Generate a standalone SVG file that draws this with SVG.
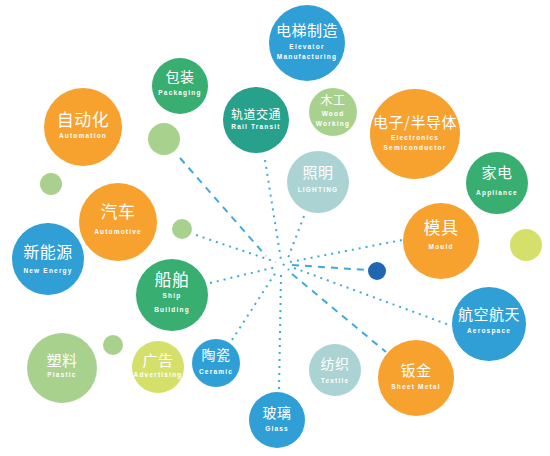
<svg xmlns="http://www.w3.org/2000/svg" width="550" height="456" viewBox="0 0 550 456">
<style>
.or{fill:#f7a12f}.bl{fill:#2f9fd6}.gr{fill:#38ae70}.te{fill:#27a08c}.lg{fill:#a9d18e}.gb{fill:#acd3d3}.yg{fill:#d5e06a}.db{fill:#2166b0}
.t{fill:#fff;font-family:"Noto Sans CJK SC","Liberation Sans",sans-serif;text-anchor:middle;letter-spacing:0.5px}
.s{fill:#fff;font-family:"Liberation Sans",sans-serif;font-weight:bold;font-size:6.5px;letter-spacing:1.2px;text-anchor:middle}
.c line{stroke:#3fa9df;stroke-width:2;fill:none}
.d1{stroke-dasharray:2 5}
.d2{stroke-dasharray:7 6}
</style>
<rect width="550" height="456" fill="#fff"/>
<g class="c" id="connectors">
<line class="d2" x1="180" y1="158" x2="266" y2="256"/>
<line class="d1" x1="265" y1="160" x2="281" y2="260"/>
<line class="d1" x1="304" y1="216" x2="288" y2="258"/>
<line class="d1" x1="196" y1="235" x2="276" y2="262"/>
<line class="d1" x1="210" y1="283" x2="276" y2="267"/>
<line class="d1" x1="232" y1="340" x2="276" y2="272"/>
<line class="d1" x1="281" y1="275" x2="279" y2="392"/>
<line class="d2" x1="292" y1="274" x2="386" y2="352"/>
<line class="d1" x1="294" y1="268" x2="452" y2="326"/>
<line class="d2" x1="292" y1="265" x2="367" y2="270"/>
<line class="d1" x1="290" y1="262" x2="402" y2="240"/>
<line class="d1" x1="283" y1="264" x2="289" y2="270"/>
</g>
<g id="n-dianti"><circle class="bl" cx="307" cy="43" r="38"/><text class="t" x="307" y="36" font-size="15">电梯制造</text><text class="s" x="307" y="49">Elevator</text><text class="s" x="307" y="59">Manufacturing</text></g>
<g id="n-baozhuang"><circle class="gr" cx="180" cy="86" r="28"/><text class="t" x="180" y="82" font-size="14">包装</text><text class="s" x="180" y="95">Packaging</text></g>
<g id="n-guidao"><circle class="te" cx="256" cy="120" r="33"/><text class="t" x="256" y="119" font-size="12">轨道交通</text><text class="s" x="256" y="129">Rail Transit</text></g>
<g id="n-mugong"><circle class="lg" cx="333" cy="112" r="24"/><text class="t" x="333" y="105" font-size="12">木工</text><text class="s" x="333" y="116">Wood</text><text class="s" x="333" y="126">Working</text></g>
<g id="n-dianzi"><circle class="or" cx="415" cy="134" r="45"/><text class="t" x="415" y="128" font-size="15">电子/半导体</text><text class="s" x="415" y="140">Electronics</text><text class="s" x="415" y="150">Semiconductor</text></g>
<g id="n-zhaoming"><circle class="gb" cx="318" cy="182" r="31"/><text class="t" x="318" y="178" font-size="15">照明</text><text class="s" x="318" y="192">LIGHTING</text></g>
<g id="n-jiadian"><circle class="gr" cx="497" cy="183" r="31"/><text class="t" x="497" y="178" font-size="15">家电</text><text class="s" x="497" y="195">Appliance</text></g>
<g id="n-zidonghua"><circle class="or" cx="83" cy="127" r="39"/><text class="t" x="83" y="126" font-size="17">自动化</text><text class="s" x="83" y="138">Automation</text></g>
<g id="n-dot1"><circle class="lg" cx="164" cy="139" r="16"/></g>
<g id="n-dot2"><circle class="lg" cx="51" cy="184" r="11"/></g>
<g id="n-qiche"><circle class="or" cx="118" cy="222" r="39"/><text class="t" x="118" y="218" font-size="17">汽车</text><text class="s" x="118" y="234">Automotive</text></g>
<g id="n-dot3"><circle class="lg" cx="182" cy="229" r="10"/></g>
<g id="n-xinnengyuan"><circle class="bl" cx="48" cy="259" r="36"/><text class="t" x="48" y="258" font-size="16">新能源</text><text class="s" x="48" y="273">New Energy</text></g>
<g id="n-chuanbo"><circle class="gr" cx="172" cy="295" r="36"/><text class="t" x="172" y="286" font-size="17">船舶</text><text class="s" x="172" y="298">Ship</text><text class="s" x="172" y="312">Building</text></g>
<g id="n-suliao"><circle class="lg" cx="62" cy="368" r="35"/><text class="t" x="62" y="366" font-size="15">塑料</text><text class="s" x="62" y="377">Plastic</text></g>
<g id="n-dot4"><circle class="lg" cx="113" cy="345" r="10"/></g>
<g id="n-guanggao"><circle class="yg" cx="158" cy="367" r="26"/><text class="t" x="158" y="366" font-size="15">广告</text><text class="s" x="158" y="377">Advertising</text></g>
<g id="n-taoci"><circle class="bl" cx="216" cy="363" r="24"/><text class="t" x="216" y="360" font-size="14">陶瓷</text><text class="s" x="216" y="374">Ceramic</text></g>
<g id="n-boli"><circle class="bl" cx="277" cy="420" r="28"/><text class="t" x="277" y="418" font-size="14">玻璃</text><text class="s" x="277" y="431">Glass</text></g>
<g id="n-fangzhi"><circle class="gb" cx="335" cy="370" r="26"/><text class="t" x="335" y="369" font-size="14">纺织</text><text class="s" x="335" y="383">Textile</text></g>
<g id="n-banjin"><circle class="or" cx="416" cy="378" r="38"/><text class="t" x="416" y="376" font-size="15">钣金</text><text class="s" x="416" y="389">Sheet Metal</text></g>
<g id="n-hangkong"><circle class="bl" cx="489" cy="324" r="37"/><text class="t" x="489" y="320" font-size="15">航空航天</text><text class="s" x="489" y="333">Aerospace</text></g>
<g id="n-muju"><circle class="or" cx="441" cy="241" r="38"/><text class="t" x="441" y="234" font-size="17">模具</text><text class="s" x="441" y="249">Mould</text></g>
<g id="n-dot5"><circle class="yg" cx="526" cy="245" r="16"/></g>
<g id="n-dot6"><circle class="db" cx="377" cy="271" r="9"/></g>
</svg>
